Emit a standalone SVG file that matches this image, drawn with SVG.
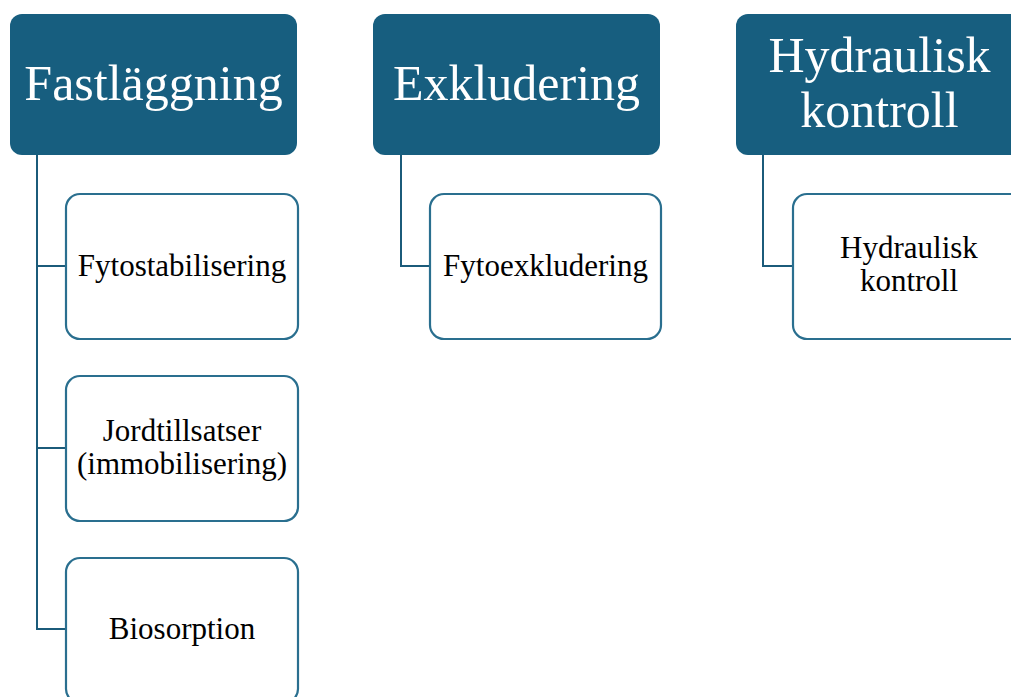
<svg xmlns="http://www.w3.org/2000/svg" width="1011" height="697" viewBox="0 0 1011 697">
<style>
.hdr{fill:#175e7f;}
.hdrt{fill:#ffffff;font-family:"Liberation Serif",serif;font-size:50px;text-anchor:middle;}
.ch{fill:#ffffff;stroke:#2a6f8f;stroke-width:2.2;}
.cht{fill:#000000;font-family:"Liberation Serif",serif;font-size:31px;text-anchor:middle;}
.con{fill:none;stroke:#1b5b7a;stroke-width:2;}
</style>
<rect width="1011" height="697" fill="#ffffff"/>
<g id="connectors">
<path class="con" d="M37,155 V629 H66 M37,266 H66 M37,448 H66"/>
<path class="con" d="M401,155 V266 H430"/>
<path class="con" d="M763,155 V266 H793"/>
</g>
<g id="n-fastlaggning">
<rect class="hdr" x="10" y="14" width="287" height="141" rx="12"/>
<text class="hdrt" x="153.5" y="100">Fastläggning</text>
</g>
<g id="n-exkludering">
<rect class="hdr" x="373" y="14" width="287" height="141" rx="12"/>
<text class="hdrt" x="516.5" y="100">Exkludering</text>
</g>
<g id="n-hydraulisk">
<rect class="hdr" x="736" y="14" width="287" height="141" rx="12"/>
<text class="hdrt" x="879.5" y="72">Hydraulisk</text>
<text class="hdrt" x="879.5" y="127">kontroll</text>
</g>
<g id="n-fytostabilisering">
<rect class="ch" x="66" y="194" width="232" height="145" rx="14"/>
<text class="cht" x="182" y="276">Fytostabilisering</text>
</g>
<g id="n-jordtillsatser">
<rect class="ch" x="66" y="376" width="232" height="145" rx="14"/>
<text class="cht" x="182" y="441">Jordtillsatser</text>
<text class="cht" x="182" y="474">(immobilisering)</text>
</g>
<g id="n-biosorption">
<rect class="ch" x="66" y="558" width="232" height="145" rx="14"/>
<text class="cht" x="182" y="639">Biosorption</text>
</g>
<g id="n-fytoexkludering">
<rect class="ch" x="430" y="194" width="231" height="145" rx="14"/>
<text class="cht" x="545.5" y="276">Fytoexkludering</text>
</g>
<g id="n-hydraulisk-kontroll">
<rect class="ch" x="793" y="194" width="232" height="145" rx="14"/>
<text class="cht" x="909" y="258">Hydraulisk</text>
<text class="cht" x="909" y="291">kontroll</text>
</g>
</svg>
